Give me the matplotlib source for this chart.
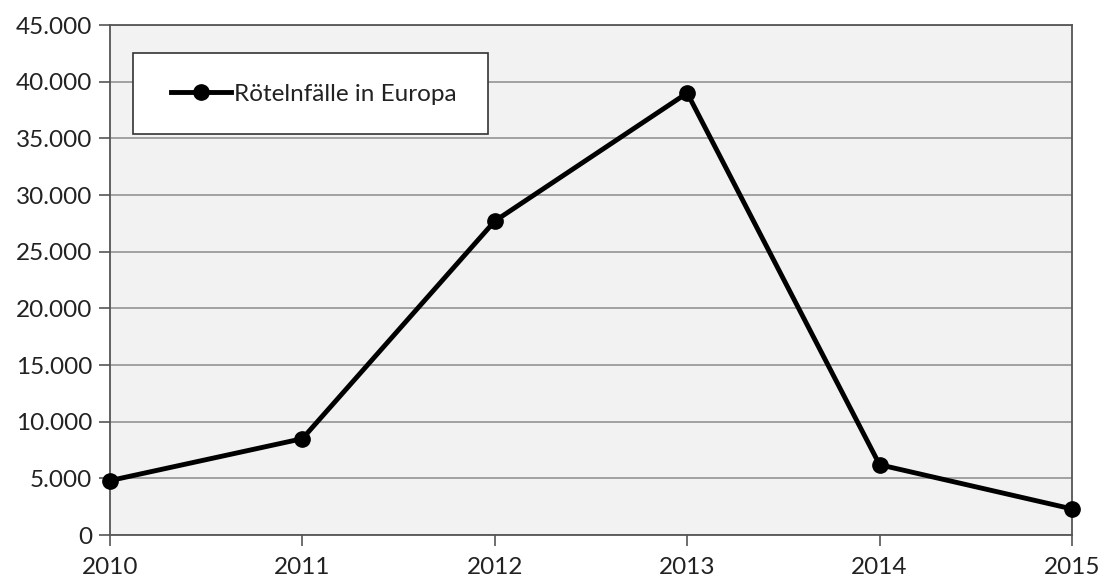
import matplotlib
matplotlib.use("Agg")
import matplotlib.pyplot as plt
from matplotlib.patches import Rectangle
from matplotlib.ticker import FuncFormatter

years = ["2010", "2011", "2012", "2013", "2014", "2015"]
cases = [4800, 8500, 27700, 39000, 6200, 2300]
series_label = "Rötelnfälle in Europa"
y_ticks = list(range(0, 45001, 5000))

plt.rcParams["font.family"] = ["Lato", "DejaVu Sans"]

W, H = 1105, 580
fig = plt.figure(figsize=(W / 100, H / 100), dpi=100)
ax = fig.add_axes([110 / W, 45 / H, 962 / W, 510 / H])
ax.set_facecolor("#f2f2f2")

x = list(range(len(years)))
ax.plot(x, cases, color="black", lw=3.5, marker="o", markersize=11,
        label=series_label, zorder=3, clip_on=False)

ax.set_xlim(0, len(years) - 1)
ax.set_ylim(0, 45000)
ax.set_yticks(y_ticks)
ax.yaxis.set_major_formatter(FuncFormatter(lambda v, p: f"{int(v):,}".replace(",", ".")))
ax.set_xticks(x)
ax.set_xticklabels(years)

ax.grid(axis="y", color="#8c8c8c", lw=1.1)
ax.set_axisbelow(True)
for s in ax.spines.values():
    s.set_color("#555555")
    s.set_linewidth(1.3)

ax.tick_params(axis="both", direction="out", length=8, width=1.2, color="#555555",
               labelsize=17.5, labelcolor="#222222")
ax.tick_params(axis="y", pad=5)
ax.tick_params(axis="x", pad=8)

# legend box (white panel with dark border)
box = Rectangle((133 / W, 1 - 134 / H), (488 - 133) / W, (134 - 53) / H,
                transform=fig.transFigure, facecolor="white", edgecolor="#333333",
                lw=1.2, zorder=4)
fig.add_artist(box)

leg = fig.legend(loc="center left", bbox_to_anchor=(171 / W, 1 - 94 / H),
                 frameon=False, fontsize=17.5, handlelength=2.45,
                 borderpad=0, borderaxespad=0, handletextpad=0.15,
                 labelcolor="#222222")
leg.set_zorder(5)

fig.savefig("out.png", dpi=100)
